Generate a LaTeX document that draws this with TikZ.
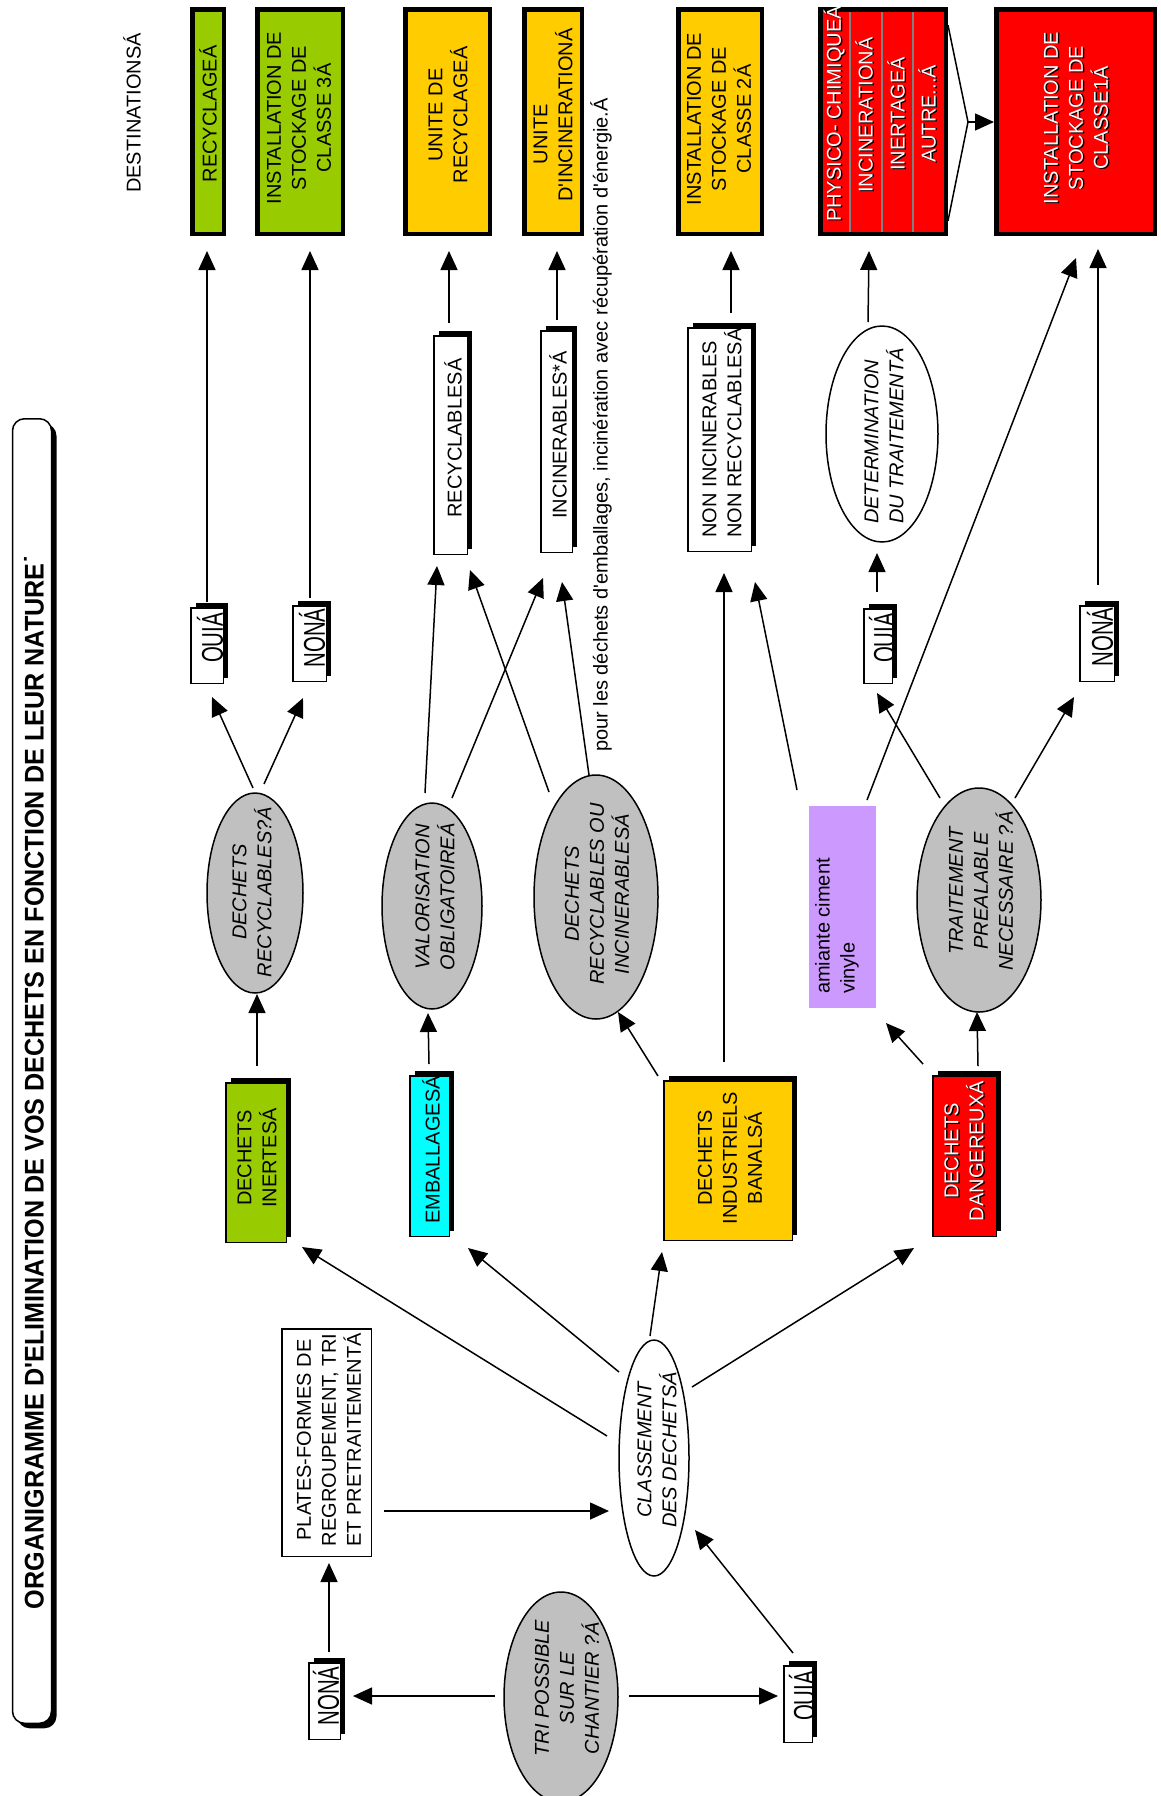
\documentclass[tikz,border=0pt]{standalone}
\usepackage{fontspec}
\setmainfont{Liberation Sans}[Ligatures=TeXOff]
\usetikzlibrary{arrows.meta,shapes.geometric,shadows,calc}
\definecolor{cgreen}{HTML}{99CC00}
\definecolor{cyel}{HTML}{FFCC00}
\definecolor{ccyan}{HTML}{00FFFF}
\definecolor{cred}{HTML}{FF0000}
\definecolor{cpurp}{HTML}{CC99FF}
\definecolor{cgray}{HTML}{C0C0C0}
\definecolor{cdiv}{HTML}{808080}
\newcommand\fs{\fontsize{20}{25}\selectfont}
\newcommand\yn[1]{\scalebox{0.68}[1]{\fontsize{30}{30}\selectfont #1}}
\newcommand\shtxt[3]{\node[txt, text=black] at ($#2+(1.5,0.8)$) {#3};\node[txt, text=white] (#1) at #2 {#3};}
\begin{document}
\begin{tikzpicture}[x=1pt,y=-1pt,
  dest/.style={draw=black, line width=4.5pt, inner sep=0pt, outer sep=0pt},
  shbox/.style={draw=black, line width=1.5pt, inner sep=0pt, outer sep=0pt, drop shadow={shadow xshift=5pt, shadow yshift=5pt, fill=black, opacity=1}},
  oval/.style={ellipse, draw=black, line width=1.5pt, inner sep=0pt, outer sep=0pt},
  txt/.style={rotate=90, inner sep=0pt, font=\fs, align=center},
  itxt/.style={txt, font=\fs\itshape},
  arr/.style={line width=1.5pt, -{Triangle[length=19pt,width=17pt]}},
  ln/.style={line width=1.5pt}
]
\useasboundingbox (0,0) rectangle (1160,1796);
\fill[white] (0,0) rectangle (1160,1796);

% title
\node[draw=black, line width=1.5pt, rounded corners=12pt, fill=white, minimum width=39pt, minimum height=1304.5pt, inner sep=0pt, drop shadow={shadow xshift=5pt, shadow yshift=-5pt, fill=black, opacity=1}] (titlebox) at (32,1071) {};
\node[txt] (title) at (34,1082) {\resizebox{1054pt}{\height}{\fontsize{27}{27}\selectfont\bfseries ORGANIGRAMME D'ELIMINATION DE VOS DECHETS EN FONCTION DE LEUR NATURE˙}};

\node[txt] (tDest) at (132,113) {DESTINATIONSÁ};

% destinations
\node[dest, fill=cgreen, minimum width=31.5pt, minimum height=224.5pt] (dRec) at (208,121.5) {};
\node[dest, fill=cgreen, minimum width=85.5pt, minimum height=224.5pt] (dC3) at (300,121.5) {};
\node[dest, fill=cyel, minimum width=84.5pt, minimum height=224.5pt] (dUR) at (447.5,121.5) {};
\node[dest, fill=cyel, minimum width=57.5pt, minimum height=224.5pt] (dUI) at (553,121.5) {};
\node[dest, fill=cyel, minimum width=83.5pt, minimum height=224.5pt] (dC2) at (720,121.5) {};
\node[dest, fill=cred, minimum width=125.5pt, minimum height=224.5pt] (dM) at (883,121.5) {};
\node[dest, fill=cred, minimum width=158.5pt, minimum height=224.5pt] (dC1) at (1075.5,121.5) {};
\draw[cdiv, line width=2.5pt] (850,11.5) -- (850,231.5) (882,11.5) -- (882,231.5) (913,11.5) -- (913,231.5);
\draw[dest, fill=none] (dM.north west) rectangle (dM.south east);

\node[txt] (tRec) at (208,114) {RECYCLAGEÁ};
\node[txt] (tC3) at (299,118) {INSTALLATION DE\\STOCKAGE DE\\CLASSE 3Á};
\node[txt] (tUR) at (448,115) {UNITE DE\\RECYCLAGEÁ};
\node[txt] (tUI) at (553,115) {UNITE\hspace*{38pt}\\D'INCINERATIONÁ};
\node[txt] (tC2) at (719,119) {INSTALLATION DE\\STOCKAGE DE\\CLASSE 2Á};
\shtxt{tPh}{(834,114)}{PHYSICO- CHIMIQUEÁ}
\shtxt{tIn}{(864,115)}{INCINERATIONÁ}
\shtxt{tIe}{(896,114)}{INERTAGEÁ}
\shtxt{tAu}{(927,114)}{AUTRE...Á}
\shtxt{tC1}{(1076,118)}{INSTALLATION DE\\STOCKAGE DE\\CLASSE1Á}

\coordinate (apex) at (968,122);
\draw[ln] ($(dM.north east)+(2.25,16)$) -- (apex) -- ($(dM.south east)+(2.25,-13)$);
\draw[arr, shorten >=2.25pt] (apex) -- (dC1.west |- apex);

% level 2
\node[shbox, fill=white, minimum width=33.5pt, minimum height=218.5pt] (recy) at (450.5,445) {};
\node[shbox, fill=white, minimum width=31.5pt, minimum height=221.5pt] (inci) at (556.5,441.5) {};
\node[shbox, fill=white, minimum width=63.5pt, minimum height=223.5pt] (nonin) at (719.5,439.5) {};
\node[oval, fill=white, minimum width=112pt, minimum height=216pt] (determ) at (882,434) {};
\node[txt] (tRecy) at (453,438) {RECYCLABLESÁ};
\node[txt] (tInci) at (558,435) {INCINERABLES*Á};
\node[txt, align=left] (tNonin) at (722,433) {NON INCINERABLES\\NON RECYCLABLESÁ};
\node[itxt, align=left] (tDet) at (884,436) {DETERMINATION\\DU TRAITEMENTÁ};
\node[txt] (note) at (601,425) {pour les déchets d'emballages, incinération avec récupération d'énergie.Á};

% level 3
\node[shbox, fill=white, minimum width=32.5pt, minimum height=75.5pt] (oui1) at (207,645.5) {};
\node[shbox, fill=white, minimum width=33.5pt, minimum height=75.5pt] (non1) at (309.5,643.5) {};
\node[shbox, fill=white, minimum width=28.5pt, minimum height=74.5pt] (oui2) at (878,646) {};
\node[shbox, fill=white, minimum width=34.5pt, minimum height=75.5pt] (non2) at (1097,643.5) {};
\node[txt] (tOui1) at (210,638) {\yn{OUIÁ}};
\node[txt] (tNon1) at (312,638) {\yn{NONÁ}};
\node[txt] (tOui2) at (882,638) {\yn{OUIÁ}};
\node[txt] (tNon2) at (1100,637) {\yn{NONÁ}};

% level 4
\node[oval, fill=cgray, minimum width=96pt, minimum height=200pt] (drq) at (255,893) {};
\node[oval, fill=cgray, minimum width=100pt, minimum height=206pt] (valo) at (432,906) {};
\node[oval, fill=cgray, minimum width=124pt, minimum height=244pt] (dri) at (596,897) {};
\node[fill=cpurp, minimum width=67pt, minimum height=202pt, inner sep=0pt, outer sep=0pt] (am) at (842.5,907) {};
\node[oval, fill=cgray, minimum width=124pt, minimum height=224pt] (trait) at (979,900) {};
\node[itxt] (tDrq) at (252,892) {DECHETS\\RECYCLABLES?Á};
\node[itxt] (tValo) at (435,897) {VALORISATION\\OBLIGATOIREÁ};
\node[itxt] (tDri) at (597,894) {DECHETS\\RECYCLABLES OU\\INCINERABLESÁ};
\node[txt, anchor=north west, align=left] (tAm) at (815,994) {amiante ciment\\vinyle};
\node[itxt] (tTrait) at (981,891) {TRAITEMENT\\PREALABLE\\NECESSAIRE ?Á};

% level 5
\node[shbox, fill=cgreen, minimum width=60.5pt, minimum height=159.5pt] (cInert) at (256,1162.5) {};
\node[shbox, fill=ccyan, minimum width=39.5pt, minimum height=160.5pt] (cEmb) at (429.5,1156) {};
\node[shbox, fill=cyel, minimum width=128.5pt, minimum height=159.5pt] (cDIB) at (728,1160.5) {};
\node[shbox, fill=cred, minimum width=63.5pt, minimum height=160.5pt] (cDD) at (964.5,1156) {};
\node[txt] (tInert) at (257,1158) {DECHETS\\INERTESÁ};
\node[txt] (tEmb) at (431,1150) {EMBALLAGESÁ};
\node[txt] (tDIB) at (730,1158) {DECHETS\\INDUSTRIELS\\BANALSÁ};
\shtxt{tDD}{(964,1151)}{DECHETS\\DANGEREUXÁ}

% level 6-7
\node[draw=black, line width=1.5pt, fill=white, inner sep=0pt, outer sep=0pt, minimum width=89.5pt, minimum height=227.5pt] (pf) at (326.5,1442.5) {};
\node[txt] (tPF) at (329,1440) {PLATES-FORMES DE\\REGROUPEMENT, TRI\\ET PRETRAITEMENTÁ};
\node[oval, fill=white, minimum width=70pt, minimum height=236pt] (cls) at (654,1458) {};
\node[itxt] (tCls) at (657,1450) {CLASSEMENT\\DES DECHETSÁ};
\node[oval, fill=cgray, minimum width=114pt, minimum height=210pt] (tri) at (561,1697) {};
\node[itxt] (tTri) at (567,1688) {TRI POSSIBLE\\SUR LE\\CHANTIER ?Á};
\node[shbox, fill=white, minimum width=31.5pt, minimum height=76.5pt] (nonb) at (324.5,1701) {};
\node[shbox, fill=white, minimum width=28.5pt, minimum height=76.5pt] (ouib) at (798,1704) {};
\node[txt] (tNonb) at (326,1696) {\yn{NONÁ}};
\node[txt] (tOuib) at (802,1696) {\yn{OUIÁ}};

% connectors
\draw[arr] ($(tri.west)+(-9,-1)$) -- ($(nonb.east)+(12.75,-5)$);
\draw[arr] ($(tri.east)+(11,-1)$) -- ($(ouib.west)+(-5.75,-8)$);
\draw[arr] ($(nonb.north)+(4.5,-10.75)$) -- ($(pf.south)+(2.5,6.75)$);
\draw[arr] ($(pf.east)+(12.75,68.5)$) -- ($(cls.west)+(-10,53)$);
\draw[arr] ($(ouib.north)+(-5,-12.75)$) -- ($(cls.center)+(41,72)$);
\draw[arr] ($(cls.center)+(-47,-22)$) -- ($(cInert.south east)+(15.75,4.75)$);
\draw[arr] ($(cls.center)+(-35,-86)$) -- ($(cEmb.south east)+(18.75,11.75)$);
\draw[arr] ($(cls.center)+(-4,-122)$) -- ($(cDIB.south west)+(-1.75,11.75)$);
\draw[arr] ($(cls.center)+(38,-71)$) -- ($(cDD.south west)+(-18.75,11.75)$);
\draw[arr] ($(cInert.north)+(1,-16.75)$) -- ($(drq.south)+(2,1)$);
\draw[arr] ($(cEmb.north)+(-0.5,-11.75)$) -- ($(valo.south)+(-4,4)$);
\draw[arr] ($(cDIB.north west)+(-5.75,-4.75)$) -- ($(dri.center)+(22,115)$);
\draw[arr] ($(cDD.north west)+(-9.75,-11.75)$) -- ($(am.south east)+(10,15)$);
\draw[arr] ($(cDD.north)+(13.5,-9.75)$) -- ($(trait.south)+(-2,0)$);
\draw[arr] ($(cDIB.north)+(-4,-18.75)$) -- ($(nonin.south)+(4.5,21.75)$);
\draw[arr] ($(drq.north)+(-2,-5)$) -- ($(oui1.south)+(5,13.75)$);
\draw[arr] ($(drq.north)+(9,-9)$) -- ($(non1.south)+(-6.5,16.75)$);
\draw[arr] ($(valo.north)+(-7,-10)$) -- ($(recy.south)+(-13.5,11.75)$);
\draw[arr] ($(valo.north)+(20,-5)$) -- ($(inci.south)+(-13.5,25.75)$);
\draw[arr] ($(dri.north)+(-47,17)$) -- ($(recy.south)+(19.5,15.75)$);
\draw[arr] ($(dri.north)+(-7,0)$) -- ($(inci.south)+(5.5,29.75)$);
\draw[arr] ($(am.north west)+(-12,-16)$) -- ($(nonin.south east)+(3.75,30.75)$);
\draw[arr] ($(am.north)+(24.5,-6)$) -- ($(dC1.south west)+(79.75,24.25)$);
\draw[arr] ($(trait.north)+(-39,10)$) -- ($(oui2.south)+(-1,9.75)$);
\draw[arr] ($(trait.north)+(36,10)$) -- ($(non2.south)+(-23,15.75)$);
\draw[arr] ($(oui1.north)+(0,-5.75)$) -- ($(dRec.south)+(-1,17.25)$);
\draw[arr] ($(non1.north)+(0.5,-7.75)$) -- ($(dC3.south)+(10,17.25)$);
\draw[arr] ($(recy.north)+(-1.5,-12.75)$) -- ($(dUR.south)+(1.5,17.25)$);
\draw[arr] ($(inci.north)+(0.5,-10.75)$) -- ($(dUI.south)+(4,17.25)$);
\draw[arr] ($(nonin.north)+(11.5,-14.75)$) -- ($(dC2.south)+(11,17.25)$);
\draw[arr] ($(determ.north)+(-14,-4)$) -- ($(dM.south)+(-14,17.25)$);
\draw[arr] ($(oui2.north)+(-1,-16.75)$) -- ($(determ.south)+(-5,11)$);
\draw[arr] ($(non2.north)+(1,-20.75)$) -- ($(dC1.south)+(22.5,15.25)$);
\end{tikzpicture}
\end{document}
